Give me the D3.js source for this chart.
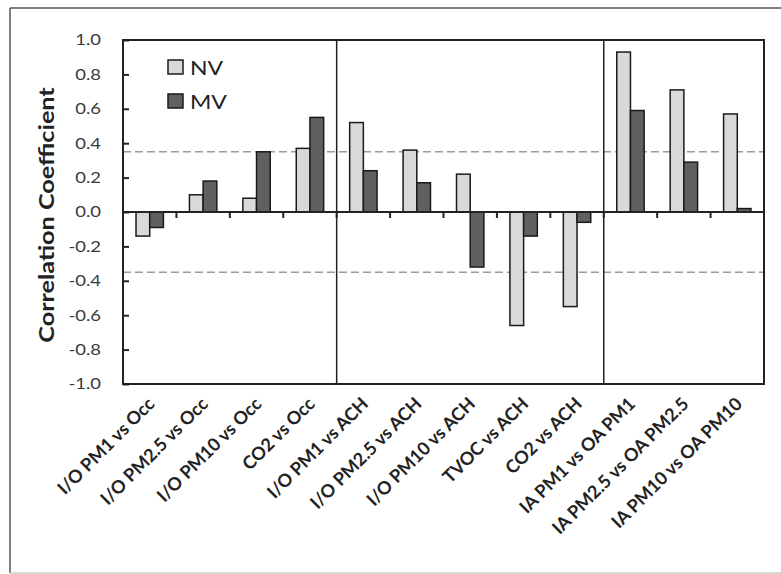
<!DOCTYPE html>
<html>
<head>
<meta charset="utf-8">
<script src="https://cdn.jsdelivr.net/npm/d3@7"></script>
<style>
  body { margin: 0; background: #fff; }
  svg { display: block; }
</style>
</head>
<body>
<div id="chart"></div>
<script>
// ---------- data
const categories = [
  "I/O PM1 vs Occ", "I/O PM2.5 vs Occ", "I/O PM10 vs Occ", "CO2 vs Occ",
  "I/O PM1 vs ACH", "I/O PM2.5 vs ACH", "I/O PM10 vs ACH", "TVOC vs ACH", "CO2 vs ACH",
  "IA PM1 vs OA PM1", "IA PM2.5 vs OA PM2.5", "IA PM10 vs OA PM10"
]
const nvValues = [-0.14, 0.10, 0.08, 0.37, 0.52, 0.36, 0.22, -0.66, -0.55, 0.93, 0.71, 0.57]
const mvValues = [-0.09, 0.18, 0.35, 0.55, 0.24, 0.17, -0.32, -0.14, -0.06, 0.59, 0.29, 0.02]
const seriesNames = ["NV", "MV"]
const yTicks = [-1.0, -0.8, -0.6, -0.4, -0.2, 0.0, 0.2, 0.4, 0.6, 0.8, 1.0]
const thresholds = [0.35, -0.35]
const groupBreaks = [4, 9]   // vertical separators after these category counts

const colors = { NV: "#d9d9d9", MV: "#606060" }

// ---------- dimensions
const width = 781, height = 574
const plot = { left: 123, right: 764, top: 40, bottom: 384 }

const svg = d3.select("#chart").append("svg")
  .attr("width", width)
  .attr("height", height)

const font = "Lato, 'Open Sans', sans-serif"
const stretch = 1.23   // the source text is a bit wider than Lato

// outer frame (top + left dark, bottom light)
svg.append("line").attr("x1", 10).attr("x2", width).attr("y1", 8).attr("y2", 8)
  .attr("stroke", "#555").attr("stroke-width", 1.5)
svg.append("line").attr("x1", 10).attr("x2", 10).attr("y1", 8).attr("y2", 573)
  .attr("stroke", "#555").attr("stroke-width", 1.5)
svg.append("line").attr("x1", 10).attr("x2", width).attr("y1", 573).attr("y2", 573)
  .attr("stroke", "#ccc").attr("stroke-width", 1.5)

// ---------- scales
const x = d3.scaleBand()
  .domain(categories)
  .range([plot.left, plot.right])

const xSub = d3.scaleBand()
  .domain(seriesNames)
  .range([0, x.bandwidth()])
  .paddingOuter(0.95)

const y = d3.scaleLinear()
  .domain([-1, 1])
  .range([plot.bottom, plot.top])

const rows = categories.map((c, i) => ({ cat: c, NV: nvValues[i], MV: mvValues[i] }))

// ---------- threshold dashed lines
svg.selectAll("line.thr")
  .data(thresholds)
  .join("line")
  .attr("class", "thr")
  .attr("x1", plot.left).attr("x2", plot.right)
  .attr("y1", d => y(d)).attr("y2", d => y(d))
  .attr("stroke", "#9a9a9a")
  .attr("stroke-width", 1.6)
  .attr("stroke-dasharray", "8,4")

// ---------- bars
svg.append("g").selectAll("g")
  .data(rows)
  .join("g")
  .attr("transform", d => `translate(${x(d.cat)},0)`)
  .selectAll("rect")
  .data(d => seriesNames.map(s => ({ s, v: d[s] })))
  .join("rect")
  .attr("x", d => xSub(d.s))
  .attr("width", xSub.bandwidth())
  .attr("y", d => y(Math.max(0, d.v)))
  .attr("height", d => Math.abs(y(d.v) - y(0)))
  .attr("fill", d => colors[d.s])
  .attr("stroke", "#1a1a1a")
  .attr("stroke-width", 1.5)

// ---------- group separators
svg.selectAll("line.sep")
  .data(groupBreaks)
  .join("line")
  .attr("class", "sep")
  .attr("x1", d => x(categories[d])).attr("x2", d => x(categories[d]))
  .attr("y1", plot.top).attr("y2", plot.bottom)
  .attr("stroke", "#222").attr("stroke-width", 1.5)

// plot frame
svg.append("rect")
  .attr("x", plot.left).attr("y", plot.top)
  .attr("width", plot.right - plot.left).attr("height", plot.bottom - plot.top)
  .attr("fill", "none").attr("stroke", "#222").attr("stroke-width", 2)

// ---------- y axis
const yAxis = d3.axisLeft(y)
  .tickValues(yTicks)
  .tickSize(-6)
  .tickPadding(22)
  .tickFormat(d3.format(".1f"))

const yg = svg.append("g")
  .attr("transform", `translate(${plot.left},0)`)
  .call(yAxis)
yg.select(".domain").remove()
yg.selectAll(".tick line").attr("stroke", "#222").attr("stroke-width", 2)
yg.selectAll(".tick text")
  .attr("fill", "#3a3a3a")
  .attr("x", -22 / stretch)
  .attr("transform", `scale(${stretch},1)`)
  .style("font-family", font)
  .style("font-size", "15px")
  .text(d => d3.format(".1f")(d).replace("−", "-"))

svg.append("text")
  .attr("transform", `translate(54,${(plot.top + plot.bottom) / 2 + 3}) rotate(-90) scale(1.2,1)`)
  .attr("text-anchor", "middle")
  .style("font-family", font)
  .style("font-weight", "bold")
  .style("font-size", "21px")
  .attr("fill", "#222")
  .text("Correlation Coefficient")

// ---------- x axis on zero line (ticks at category boundaries)
svg.append("g").selectAll("line")
  .data(d3.range(1, categories.length))
  .join("line")
  .attr("x1", i => x(categories[i])).attr("x2", i => x(categories[i]))
  .attr("y1", y(0)).attr("y2", y(0) + 6)
  .attr("stroke", "#222").attr("stroke-width", 2)

svg.append("line")
  .attr("x1", plot.left).attr("x2", plot.right)
  .attr("y1", y(0)).attr("y2", y(0))
  .attr("stroke", "#222").attr("stroke-width", 2)

// category labels, rotated
svg.append("g").selectAll("text")
  .data(categories)
  .join("text")
  .attr("transform", d => `translate(${x(d) + x.bandwidth() / 2 + 6},${plot.bottom + 21}) rotate(-45)`)
  .attr("text-anchor", "end")
  .style("font-family", font)
  .style("font-weight", "bold")
  .style("font-size", "18px")
  .attr("fill", "#222")
  .text(d => d)

// ---------- legend
const legend = svg.append("g")
  .selectAll("g")
  .data(seriesNames)
  .join("g")
  .attr("transform", (d, i) => `translate(168,${60 + i * 34})`)

legend.append("rect")
  .attr("width", 15).attr("height", 14)
  .attr("fill", d => colors[d])
  .attr("stroke", "#1a1a1a").attr("stroke-width", 1.5)

legend.append("text")
  .attr("x", 22 / 1.15).attr("y", 15)
  .attr("transform", "scale(1.15,1)")
  .style("font-family", font)
  .style("font-size", "20px")
  .attr("fill", "#222")
  .text(d => d)
</script>
</body>
</html>
